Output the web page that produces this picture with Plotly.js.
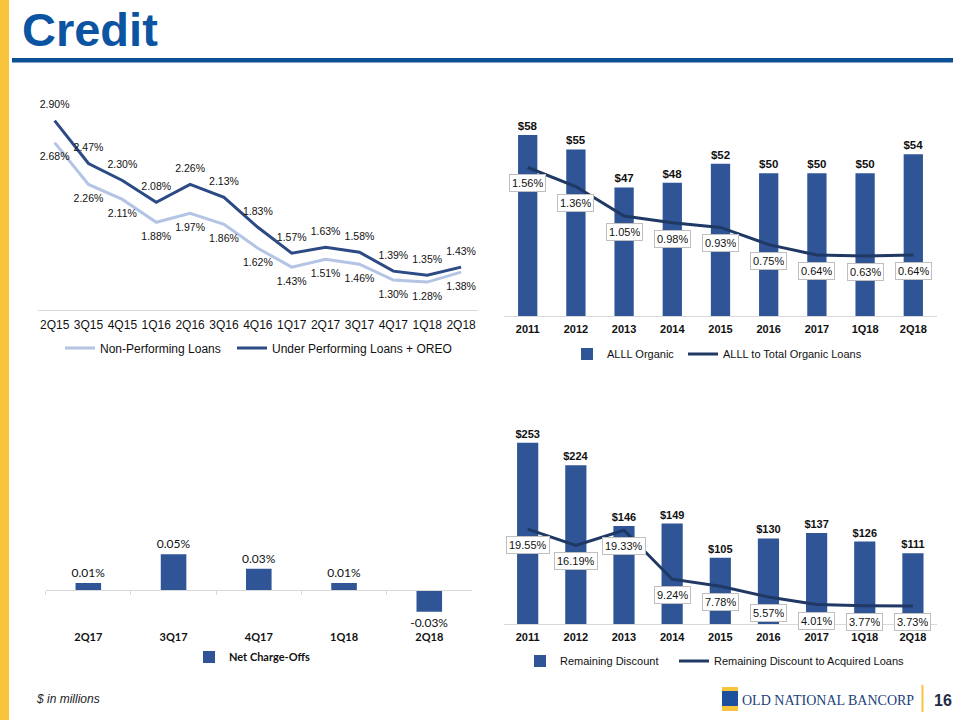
<!DOCTYPE html>
<html>
<head>
<meta charset="utf-8">
<script src="https://cdn.plot.ly/plotly-3.0.1.min.js"></script>
<style>html,body{margin:0;padding:0;background:#fff;}#chart{width:960px;height:720px;}</style>
</head>
<body>
<div id="chart"></div>
<script>
// ---- data ----
const quarters = ['2Q15','3Q15','4Q15','1Q16','2Q16','3Q16','4Q16','1Q17','2Q17','3Q17','4Q17','1Q18','2Q18'];
const nonPerforming = [2.68,2.26,2.11,1.88,1.97,1.86,1.62,1.43,1.51,1.46,1.30,1.28,1.38];
const underPerforming = [2.90,2.47,2.30,2.08,2.26,2.13,1.83,1.57,1.63,1.58,1.39,1.35,1.43];

const years = ['2011','2012','2013','2014','2015','2016','2017','1Q18','2Q18'];
const alllOrganic = [58,55,47,48,52,50,50,50,54];
const alllToLoans = [1.56,1.36,1.05,0.98,0.93,0.75,0.64,0.63,0.64];

const ncoQuarters = ['2Q17','3Q17','4Q17','1Q18','2Q18'];
const netChargeOffs = [0.01,0.05,0.03,0.01,-0.03];

const remainingDiscount = [253,224,146,149,105,130,137,126,111];
const discountToAcquired = [19.55,16.19,19.33,9.24,7.78,5.57,4.01,3.77,3.73];

// ---- styling ----
const F = 'Liberation Sans, Arial, sans-serif';
const FC = 'Lato, Open Sans, sans-serif';
const BAR = '#2f5597';
const NAVY = '#1f3864';
const DARKLINE = '#2c4a84';
const LIGHTLINE = '#b4c4e4';
const AXIS = '#d9d9d9';
const px = x => x / 960;
const py = y => 1 - y / 720;

const traces = [
  {type:'scatter', mode:'lines', x:quarters, y:nonPerforming, name:'Non-Performing Loans',
   xaxis:'x', yaxis:'y', legend:'legend', line:{color:LIGHTLINE, width:3}, hoverinfo:'skip'},
  {type:'scatter', mode:'lines', x:quarters, y:underPerforming, name:'Under Performing Loans + OREO',
   xaxis:'x', yaxis:'y', legend:'legend2', line:{color:DARKLINE, width:3}, hoverinfo:'skip'},
  {type:'scatter', mode:'markers+text', x:quarters, y:nonPerforming, showlegend:false,
   xaxis:'x', yaxis:'y', marker:{size:14, opacity:0},
   text:nonPerforming.map(v=>v.toFixed(2)+'%'), textposition:'bottom center',
   textfont:{family:F, size:10.5, color:'#111'}, cliponaxis:false, hoverinfo:'skip'},
  {type:'scatter', mode:'markers+text', x:quarters, y:underPerforming, showlegend:false,
   xaxis:'x', yaxis:'y', marker:{size:14, opacity:0},
   text:underPerforming.map(v=>v.toFixed(2)+'%'), textposition:'top center',
   textfont:{family:F, size:10.5, color:'#111'}, cliponaxis:false, hoverinfo:'skip'},

  {type:'bar', x:years, y:alllOrganic, name:'ALLL Organic', xaxis:'x2', yaxis:'y2', legend:'legend3',
   width:0.4, marker:{color:BAR}, constraintext:'none',
   text:alllOrganic.map(v=>'$'+v), textposition:'outside', cliponaxis:false,
   textfont:{family:F, size:11.5, color:'#111', weight:'bold'}, hoverinfo:'skip'},
  {type:'scatter', mode:'lines', x:years, y:alllToLoans, name:'ALLL to Total Organic Loans', xaxis:'x2', yaxis:'y3', legend:'legend4',
   line:{color:NAVY, width:3}, hoverinfo:'skip'},

  {type:'bar', x:ncoQuarters, y:netChargeOffs, name:'Net Charge-Offs', xaxis:'x3', yaxis:'y4', legend:'legend5',
   width:0.3, marker:{color:BAR}, constraintext:'none',
   texttemplate:'%{y:.2f}%', textposition:'outside', cliponaxis:false,
   textfont:{family:FC, size:12, color:'#111'}, hoverinfo:'skip'},

  {type:'bar', x:years, y:remainingDiscount, name:'Remaining Discount', xaxis:'x4', yaxis:'y5', legend:'legend6',
   width:0.44, marker:{color:BAR}, constraintext:'none',
   text:remainingDiscount.map(v=>'$'+v), textposition:'outside', cliponaxis:false,
   textfont:{family:F, size:11, color:'#111', weight:'bold'}, hoverinfo:'skip'},
  {type:'scatter', mode:'lines', x:years, y:discountToAcquired, name:'Remaining Discount to Acquired Loans', xaxis:'x4', yaxis:'y6', legend:'legend7',
   line:{color:NAVY, width:3}, hoverinfo:'skip'}
];

// boxed percentage labels, placed at the category index of each point
const boxLabel = (ys, xref, yref) => ys.map((v,i)=>({
  x:i, y:v, xref:xref, yref:yref, yshift:-16, showarrow:false,
  text:v.toFixed(2)+'%', font:{family:F, size:11, color:'#111'},
  bgcolor:'#ffffff', bordercolor:'#bfbfbf', borderwidth:1, borderpad:2, height:12
}));

const annotations = [
  {text:'Credit', xref:'paper', yref:'paper', x:px(20), y:py(30), xanchor:'left', yanchor:'middle', showarrow:false,
   font:{family:F, size:47, color:'#0b54a2', weight:'bold'}},
  {text:'$ in millions', xref:'paper', yref:'paper', x:px(34), y:py(699), xanchor:'left', yanchor:'middle', showarrow:false,
   font:{family:F, size:12, color:'#222', style:'italic'}},
  {text:'OLD NATIONAL BANCORP', xref:'paper', yref:'paper', x:px(740), y:py(700), xanchor:'left', yanchor:'middle', showarrow:false,
   font:{family:'Liberation Serif, Times New Roman, serif', size:14, color:'#1c3f7c'}},
  {text:'16', xref:'paper', yref:'paper', x:px(932), y:py(700), xanchor:'left', yanchor:'middle', showarrow:false,
   font:{family:F, size:16, color:'#1f2b45', weight:'bold'}}
].concat(boxLabel(alllToLoans, 'x2', 'y3'))
 .concat(boxLabel(discountToAcquired, 'x4', 'y6'));

const shapes = [
  {type:'rect', xref:'paper', yref:'paper', x0:0, x1:px(9), y0:0, y1:1, fillcolor:'#f8c43c', line:{width:0}, layer:'below'},
  {type:'rect', xref:'paper', yref:'paper', x0:px(12), x1:px(953), y0:py(62.5), y1:py(58), fillcolor:'#0d4f94', line:{width:0}},
  {type:'rect', xref:'paper', yref:'paper', x0:px(722), x1:px(738), y0:py(711), y1:py(687), fillcolor:'#f8c43c', line:{width:0}},
  {type:'rect', xref:'paper', yref:'paper', x0:px(722), x1:px(738), y0:py(706), y1:py(691), fillcolor:'#1d4f9c', line:{width:0}},
  {type:'line', xref:'paper', yref:'paper', x0:px(922.5), x1:px(922.5), y0:py(712), y1:py(685), line:{color:'#f8c43c', width:2}}
];

const xcommon = {type:'category', tickangle:0, showline:true, linecolor:AXIS, linewidth:1, showgrid:false, zeroline:false, fixedrange:true};

const legendCommon = {orientation:'h', xref:'paper', yref:'paper', xanchor:'left', yanchor:'middle',
  bgcolor:'rgba(0,0,0,0)', borderwidth:0, tracegroupgap:0, traceorder:'normal'};
const leg = (x, y, font) => Object.assign({}, legendCommon, {x:px(x), y:py(y), font:font});
const LF = {family:F, size:11, color:'#111'};

const layout = {
  width:960, height:720, margin:{l:0,r:0,t:0,b:0},
  paper_bgcolor:'#ffffff', plot_bgcolor:'rgba(0,0,0,0)',
  font:{family:F, color:'#111'}, showlegend:true,
  xaxis:Object.assign({}, xcommon, {domain:[px(37.7),px(478)], anchor:'y', ticks:'',
    range:[-0.5, quarters.length-0.5],
    tickfont:{family:F, size:12, color:'#111'}, ticklabelstandoff:4}),
  yaxis:{domain:[py(310),py(110.7)], range:[1,3], visible:false, anchor:'x', fixedrange:true},

  xaxis2:Object.assign({}, xcommon, {domain:[px(503.6),px(937.4)], anchor:'y2', ticks:'',
    range:[-0.5, years.length-0.5],
    tickfont:{family:F, size:11, color:'#111', weight:'bold'}, ticklabelstandoff:3}),
  yaxis2:{domain:[py(316),py(125.6)], range:[20,60], visible:false, anchor:'x2', fixedrange:true},
  yaxis3:{overlaying:'y2', range:[0,2.0], visible:false, anchor:'x2', fixedrange:true},

  xaxis3:Object.assign({}, xcommon, {domain:[px(45.7),px(471.9)], anchor:'free', position:py(590),
    range:[-0.5, ncoQuarters.length-0.5],
    ticks:'outside', tickson:'boundaries', ticklen:4, tickcolor:AXIS,
    tickfont:{family:FC, size:11, color:'#111', weight:'bold'}, ticklabelstandoff:37}),
  yaxis4:{domain:[py(626),py(540)], range:[-0.05,0.07], visible:false, anchor:'x3', fixedrange:true},

  xaxis4:Object.assign({}, xcommon, {domain:[px(503.6),px(937)], anchor:'y5', ticks:'',
    range:[-0.5, years.length-0.5],
    tickfont:{family:F, size:11, color:'#111', weight:'bold'}, ticklabelstandoff:3}),
  yaxis5:{domain:[py(624),py(422)], range:[20,279.6], visible:false, anchor:'x4', fixedrange:true},
  yaxis6:{overlaying:'y5', range:[0,41.65], visible:false, anchor:'x4', fixedrange:true},

  legend:leg(60, 348, {family:F, size:12, color:'#111'}),
  legend2:leg(232, 348, {family:F, size:12, color:'#111'}),
  legend3:leg(567, 354, LF),
  legend4:leg(683, 354, LF),
  legend5:leg(189, 657, {family:FC, size:11, color:'#111', weight:'bold'}),
  legend6:leg(520, 661, LF),
  legend7:leg(674, 661, LF),

  annotations:annotations, shapes:shapes
};

Plotly.newPlot('chart', traces, layout, {staticPlot:true, displayModeBar:false});
</script>
</body>
</html>
